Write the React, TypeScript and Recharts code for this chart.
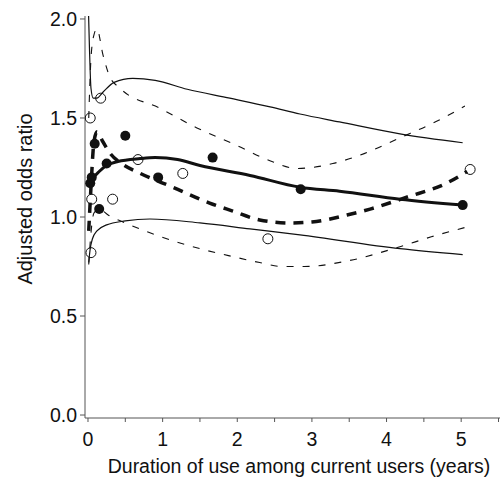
import React from 'react';
import { ComposedChart, Line, Scatter, XAxis, YAxis } from 'recharts';

// tick labels
const xTicks = [0, 0.5, 1, 1.5, 2, 2.5, 3, 3.5, 4, 4.5, 5, 5.5];
const yTicks = [0, 0.5, 1, 1.5, 2];

// observed odds ratios (filled / open circles)
const filledX = [0.03, 0.05, 0.09, 0.15, 0.25, 0.5, 0.94, 1.67, 2.85, 5.02];
const filledY = [1.17, 1.2, 1.37, 1.04, 1.27, 1.41, 1.2, 1.3, 1.14, 1.06];
const openX = [0.03, 0.17, 0.05, 0.04, 0.33, 0.67, 1.27, 2.41, 5.12];
const openY = [1.5, 1.6, 1.09, 0.82, 1.09, 1.29, 1.22, 0.89, 1.24];

// fitted curve for filled points, with 95% limits
const solidX = [0.03, 0.08, 0.15, 0.25, 0.4, 0.7, 0.9, 1.2, 1.5, 2.17, 2.84, 3.37, 4.18, 5.02];
const solidFit = [1.16, 1.2, 1.23, 1.26, 1.28, 1.295, 1.3, 1.29, 1.26, 1.21, 1.15, 1.13, 1.09, 1.06];
const solidUpX = [0.005, 0.02, 0.04, 0.07, 0.12, 0.2, 0.35, 0.6, 0.9, 1.33, 1.9, 2.44, 2.84, 3.37, 4.18, 5.02];
const solidUp = [2.06, 1.85, 1.65, 1.6, 1.6, 1.63, 1.68, 1.7, 1.69, 1.645, 1.6, 1.556, 1.52, 1.48, 1.42, 1.375];
const solidLoX = [0.01, 0.03, 0.06, 0.12, 0.25, 0.5, 0.83, 1.5, 2.17, 2.84, 4.18, 5.02];
const solidLo = [0.77, 0.84, 0.89, 0.93, 0.96, 0.98, 0.99, 0.97, 0.94, 0.91, 0.84, 0.81];

// fitted curve for open points, with 95% limits
const dashX = [0.01, 0.04, 0.08, 0.12, 0.2, 0.3, 0.45, 0.7, 1.14, 1.63, 1.94, 2.3, 2.7, 3.0, 3.47, 3.78, 4.27, 4.8, 5.08];
const dashFit = [0.93, 1.15, 1.38, 1.43, 1.38, 1.32, 1.27, 1.22, 1.15, 1.07, 1.03, 0.985, 0.97, 0.975, 1.01, 1.04, 1.1, 1.17, 1.23];
const dashUpX = [0.01, 0.04, 0.08, 0.12, 0.2, 0.29, 0.43, 0.96, 1.46, 2.0, 2.4, 2.8, 3.0, 3.28, 3.7, 4.18, 4.6, 5.05];
const dashUp = [1.5, 1.8, 1.92, 1.95, 1.82, 1.71, 1.65, 1.55, 1.45, 1.36, 1.29, 1.245, 1.25, 1.27, 1.32, 1.4, 1.47, 1.56];
const dashLoX = [0.01, 0.04, 0.08, 0.15, 0.27, 0.5, 0.83, 1.5, 1.94, 2.3, 2.6, 2.9, 3.5, 4.18, 4.6, 5.08];
const dashLo = [0.76, 0.92, 1.02, 1.04, 1.01, 0.97, 0.92, 0.84, 0.8, 0.77, 0.75, 0.75, 0.78, 0.85, 0.9, 0.95];

const pts = (xs: number[], ys: number[]) => xs.map((x, i) => ({ x, y: ys[i] }));

const FONT = '"Liberation Sans", Arial, sans-serif';
const AXIS = '#555';
const INK = '#111';

const filledDot = (p: any) => <circle cx={p.cx} cy={p.cy} r={5} fill={INK} />;
const openDot = (p: any) => <circle cx={p.cx} cy={p.cy} r={5} fill="none" stroke={INK} strokeWidth={1} />;

export default function App() {
    return (
        <div style={{ position: 'absolute', left: 0, top: 0, width: 503, height: 477, background: '#fff' }}>
            <ComposedChart width={503} height={477} margin={{ top: 16, right: 3, bottom: 0, left: 0 }}
                style={{ fontFamily: FONT }}>
                <XAxis dataKey="x" type="number" domain={[-0.04, 5.52]} ticks={xTicks} allowDataOverflow
                    height={59} stroke={AXIS} tickSize={4} tickMargin={10}
                    tick={{ fill: INK, fontSize: 19.5 }}
                    tickFormatter={(v: number) => (Number.isInteger(v) ? String(v) : '')}
                    label={{
                        content: () => (
                            <text x={299} y={473} textAnchor="middle" fill={INK} fontSize={19.5} fontFamily={FONT}>
                                Duration of use among current users (years)
                            </text>
                        ),
                    }} />
                <XAxis xAxisId="top" orientation="top" type="number" domain={[-0.04, 5.52]} height={0}
                    tick={false} tickLine={false} stroke={AXIS} />
                <YAxis dataKey="y" type="number" domain={[-0.015, 2.015]} ticks={yTicks} allowDataOverflow
                    width={85} stroke={AXIS} tickSize={5} tickMargin={3}
                    tick={{ fill: INK, fontSize: 19.5 }}
                    tickFormatter={(v: number) => v.toFixed(1)}
                    label={{
                        content: () => (
                            <text x={25} y={199} transform="rotate(-90 25 199)" textAnchor="middle"
                                dominantBaseline="central" fill={INK} fontSize={20} fontFamily={FONT}>
                                Adjusted odds ratio
                            </text>
                        ),
                    }} />
                <YAxis yAxisId="right" orientation="right" type="number" domain={[-0.015, 2.015]} width={0}
                    tick={false} tickLine={false} stroke={AXIS} />

                <Line data={pts(solidUpX, solidUp)} dataKey="y" type="monotone" stroke={INK} strokeWidth={1.2}
                    dot={false} activeDot={false} isAnimationActive={false} />
                <Line data={pts(solidLoX, solidLo)} dataKey="y" type="monotone" stroke={INK} strokeWidth={1.2}
                    dot={false} activeDot={false} isAnimationActive={false} />
                <Line data={pts(dashUpX, dashUp)} dataKey="y" type="monotone" stroke={INK} strokeWidth={1.1}
                    strokeDasharray="7 9" dot={false} activeDot={false} isAnimationActive={false} />
                <Line data={pts(dashLoX, dashLo)} dataKey="y" type="monotone" stroke={INK} strokeWidth={1.1}
                    strokeDasharray="7 9" dot={false} activeDot={false} isAnimationActive={false} />
                <Line data={pts(dashX, dashFit)} dataKey="y" type="monotone" stroke={INK} strokeWidth={3.5}
                    strokeDasharray="10 8" dot={false} activeDot={false} isAnimationActive={false} />
                <Line data={pts(solidX, solidFit)} dataKey="y" type="monotone" stroke={INK} strokeWidth={3}
                    dot={false} activeDot={false} isAnimationActive={false} />

                <Scatter data={pts(filledX, filledY)} dataKey="y" shape={filledDot} isAnimationActive={false} />
                <Scatter data={pts(openX, openY)} dataKey="y" shape={openDot} isAnimationActive={false} />
            </ComposedChart>
        </div>
    );
}
